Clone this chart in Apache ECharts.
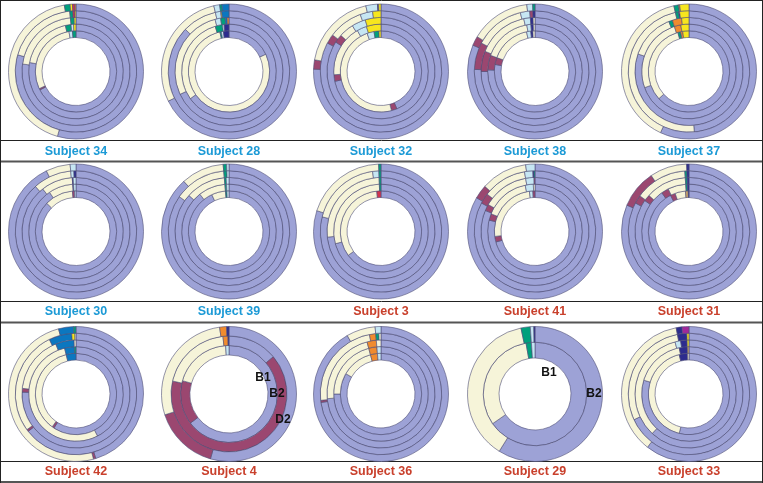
<!DOCTYPE html>
<html>
<head>
<meta charset="utf-8">
<script src="https://cdn.jsdelivr.net/npm/echarts@6/dist/echarts.min.js"></script>
<style>
  html, body { margin: 0; padding: 0; background: #fff; }
  #chart { width: 763px; height: 483px; }
</style>
</head>
<body>
<div id="chart"></div>
<script>
// segment colours (single letter keys used in the ring data)
const palette = {
  L: '#9da2d6', // lavender
  C: '#f6f4d9', // cream
  M: '#9b4770', // mauve
  S: '#c6e6f3', // light blue
  Y: '#f7e61e', // yellow
  G: '#00a07c', // green
  O: '#f08b2e', // orange
  B: '#0b77c0', // blue
  N: '#2c2c8e', // navy
  R: '#d2344f', // red
  P: '#a0289a', // purple
  T: '#c9a46c', // tan
}

const subjects = [
  'Subject 34', 'Subject 28', 'Subject 32', 'Subject 38', 'Subject 37',
  'Subject 30', 'Subject 39', 'Subject 3', 'Subject 41', 'Subject 31',
  'Subject 42', 'Subject 4', 'Subject 36', 'Subject 29', 'Subject 33',
]
const labelBlue = ['Subject 34', 'Subject 28', 'Subject 32', 'Subject 38', 'Subject 37', 'Subject 30', 'Subject 39']

// rings inner -> outer, segments in degrees clockwise from 12 o'clock
const s34 = [
  ['L', 243, 'M', 2, 'C', 105, 'S', 5, 'G', 5],
  ['L', 281, 'C', 66, 'G', 7, 'S', 3, 'Y', 3],
  ['L', 278, 'C', 76, 'G', 4, 'Y', 2],
  ['L', 286, 'C', 68, 'G', 3, 'R', 2, 'Y', 1],
  ['L', 196, 'C', 154, 'G', 5, 'Y', 2, 'R', 2, 'O', 1],
]
const s28 = [
  ['L', 65, 'C', 282, 'G', 2, 'S', 3, 'N', 8],
  ['L', 235, 'C', 108, 'G', 9, 'S', 2, 'N', 6],
  ['L', 245, 'C', 100, 'S', 6, 'G', 5, 'B', 2, 'O', 2],
  ['L', 314, 'C', 33, 'S', 5, 'Y', 1, 'B', 7],
  ['L', 244, 'C', 103, 'S', 5, 'G', 2, 'B', 6],
]
const s32 = [
  ['L', 157, 'M', 8, 'C', 175, 'S', 10, 'G', 7, 'Y', 3],
  ['L', 258, 'M', 8, 'C', 64, 'S', 12, 'Y', 18],
  ['L', 303, 'M', 9, 'C', 16, 'S', 15, 'Y', 17],
  ['L', 298, 'M', 9, 'C', 33, 'S', 12, 'Y', 8],
  ['L', 272, 'M', 8, 'C', 67, 'S', 10, 'N', 1, 'Y', 2],
]
const s38 = [
  ['L', 280, 'M', 10, 'C', 58, 'S', 6, 'N', 3, 'C', 3],
  ['L', 272, 'M', 18, 'C', 60, 'S', 5, 'N', 3, 'C', 2],
  ['L', 270, 'M', 22, 'C', 56, 'S', 7, 'N', 3, 'C', 2],
  ['L', 272, 'M', 26, 'C', 48, 'S', 9, 'M', 3, 'N', 2],
  ['L', 293, 'M', 8, 'C', 52, 'S', 5, 'G', 2],
]
const s37 = [
  ['L', 228, 'C', 116, 'G', 4, 'O', 3, 'Y', 9],
  ['L', 250, 'C', 92, 'O', 8, 'Y', 10],
  ['L', 289, 'C', 49, 'G', 4, 'O', 10, 'Y', 8],
  ['L', 175, 'C', 172, 'G', 3, 'N', 1, 'Y', 9],
  ['L', 205, 'C', 142, 'G', 4, 'O', 1, 'Y', 8],
]
const s30 = [
  ['L', 314, 'C', 41, 'M', 3, 'S', 2],
  ['L', 326, 'C', 30, 'N', 1, 'S', 3],
  ['L', 322, 'C', 34, 'N', 1, 'S', 3],
  ['L', 318, 'C', 37, 'S', 3, 'N', 2],
  ['L', 334, 'C', 21, 'S', 5],
]
const s39 = [
  ['L', 335, 'C', 20, 'G', 2, 'S', 3],
  ['L', 322, 'C', 33, 'G', 2, 'S', 3],
  ['L', 312, 'C', 43, 'G', 2, 'S', 3],
  ['L', 305, 'C', 50, 'G', 3, 'S', 2],
  ['L', 318, 'C', 37, 'G', 3, 'S', 2],
]
const s3 = [
  ['L', 234, 'C', 120, 'R', 6],
  ['L', 255, 'C', 103, 'G', 2],
  ['L', 264, 'C', 94, 'G', 2],
  ['L', 284, 'C', 68, 'S', 6, 'G', 2],
  ['L', 288, 'C', 70, 'G', 2],
]
const s41 = [
  ['L', 255, 'M', 8, 'C', 89, 'S', 5, 'M', 3],
  ['L', 284, 'M', 8, 'C', 56, 'S', 10, 'C', 2],
  ['L', 293, 'M', 7, 'C', 50, 'S', 9, 'M', 1],
  ['L', 298, 'M', 10, 'C', 42, 'S', 8, 'N', 1, 'G', 1],
  ['L', 300, 'M', 12, 'C', 40, 'S', 8],
]
const s31 = [
  ['L', 333, 'M', 7, 'C', 15, 'T', 4, 'N', 1],
  ['L', 325, 'M', 9, 'C', 22, 'G', 2, 'N', 2],
  ['L', 305, 'M', 7, 'C', 44, 'G', 2, 'N', 2],
  ['L', 298, 'M', 8, 'C', 50, 'G', 2, 'N', 2],
  ['L', 293, 'M', 33, 'C', 32, 'N', 2],
]
const s42 = [
  ['L', 213, 'M', 3, 'C', 130, 'B', 14],
  ['L', 153, 'C', 193, 'B', 12, 'G', 2],
  ['L', 272, 'M', 4, 'C', 62, 'B', 20, 'C', 2],
  ['L', 232, 'M', 2, 'C', 100, 'B', 22, 'Y', 3, 'C', 1],
  ['L', 163, 'M', 2, 'C', 180, 'B', 13, 'G', 2],
]
const s4 = [
  ['L', 233, 'M', 53, 'C', 70, 'S', 4],
  ['L', 50, 'M', 233, 'C', 71, 'O', 5, 'N', 1],
  ['L', 196, 'M', 56, 'C', 100, 'O', 6, 'N', 2],
]
const s36 = [
  ['L', 300, 'C', 45, 'O', 10, 'S', 5],
  ['L', 270, 'C', 75, 'O', 10, 'S', 5],
  ['L', 265, 'C', 80, 'O', 10, 'C', 5],
  ['L', 262, 'M', 2, 'C', 85, 'O', 6, 'G', 3, 'C', 2],
  ['L', 330, 'C', 25, 'S', 5],
]
const s29 = [
  ['L', 235, 'C', 115, 'G', 6, 'S', 4],
  ['L', 212, 'C', 136, 'G', 8, 'S', 3, 'N', 1],
]
const s33 = [
  ['L', 194, 'C', 152, 'N', 12, 'C', 2],
  ['L', 287, 'C', 61, 'N', 10, 'T', 2],
  ['L', 223, 'C', 122, 'S', 6, 'N', 7, 'Y', 2],
  ['L', 245, 'C', 104, 'N', 9, 'Y', 2],
  ['L', 218, 'C', 131, 'N', 5, 'P', 6],
]
const ringData = [s34, s28, s32, s38, s37, s30, s39, s3, s41, s31, s42, s4, s36, s29, s33]

// hole radius of each donut (outer radius is shared)
const holeRadius = [34, 34, 34, 34, 34, 34, 34, 34, 34, 34, 34, 39, 34, 36, 34]
const outerRadius = 67.5

// ring name labels drawn on subject 4 and subject 29
const ringTags = [
  { subject: 'Subject 4', text: 'B1', dx: 34, dy: -16 },
  { subject: 'Subject 4', text: 'B2', dx: 48, dy: 0 },
  { subject: 'Subject 4', text: 'D2', dx: 54, dy: 26 },
  { subject: 'Subject 29', text: 'B1', dx: 14, dy: -21 },
  { subject: 'Subject 29', text: 'B2', dx: 59, dy: 0 },
]

const colX = [76, 229, 381, 535, 689]
const rowY = [71.5, 231.5, 394]
const labelY = [151.5, 312, 472]

const series = []
const graphic = []

subjects.forEach((name, i) => {
  const cx = colX[i % 5]
  const cy = rowY[Math.floor(i / 5)]
  const rings = ringData[i]
  const step = (outerRadius - holeRadius[i]) / rings.length
  rings.forEach((ring, k) => {
    const data = []
    for (let j = 0; j < ring.length; j += 2) {
      data.push({ value: ring[j + 1], itemStyle: { color: palette[ring[j]] } })
    }
    series.push({
      type: 'pie',
      center: [cx, cy],
      radius: [holeRadius[i] + step * k, holeRadius[i] + step * (k + 1)],
      startAngle: 90,
      clockwise: true,
      silent: true,
      animation: false,
      label: { show: false },
      labelLine: { show: false },
      itemStyle: { borderColor: '#4e4e76', borderWidth: 0.6 },
      data,
    })
  })
  graphic.push({
    type: 'text',
    x: cx,
    y: labelY[Math.floor(i / 5)],
    style: {
      text: name,
      fill: labelBlue.includes(name) ? '#1c9ad6' : '#c9402c',
      font: 'bold 12.5px "Liberation Sans", Arial, sans-serif',
      align: 'center',
      verticalAlign: 'middle',
      textAlign: 'center',
      textVerticalAlign: 'middle',
    },
  })
})

ringTags.forEach(t => {
  const i = subjects.indexOf(t.subject)
  graphic.push({
    type: 'text',
    x: colX[i % 5] + t.dx,
    y: rowY[Math.floor(i / 5)] + t.dy,
    z: 10,
    style: {
      text: t.text,
      fill: '#111',
      font: 'bold 12px "Liberation Sans", Arial, sans-serif',
      align: 'center',
      verticalAlign: 'middle',
      textAlign: 'center',
      textVerticalAlign: 'middle',
    },
  })
})

// frame lines
const frame = [
  [0, 0.5, 763, 0.5, '#222', 1],
  [0, 140.5, 763, 140.5, '#222', 1],
  [0, 161.5, 763, 161.5, '#555', 2],
  [0, 301.5, 763, 301.5, '#222', 1],
  [0, 322.5, 763, 322.5, '#555', 2],
  [0, 461.5, 763, 461.5, '#222', 1],
  [0, 482, 763, 482, '#555', 2],
  [0.5, 0, 0.5, 483, '#222', 1],
  [762.5, 0, 762.5, 483, '#222', 1],
]
frame.forEach(f => {
  graphic.push({
    type: 'line',
    silent: true,
    shape: { x1: f[0], y1: f[1], x2: f[2], y2: f[3] },
    style: { stroke: f[4], lineWidth: f[5] },
  })
})

const chart = echarts.init(document.getElementById('chart'), null, { renderer: 'canvas' })
chart.setOption({
  backgroundColor: '#fff',
  animation: false,
  series,
  graphic,
})
</script>
</body>
</html>
